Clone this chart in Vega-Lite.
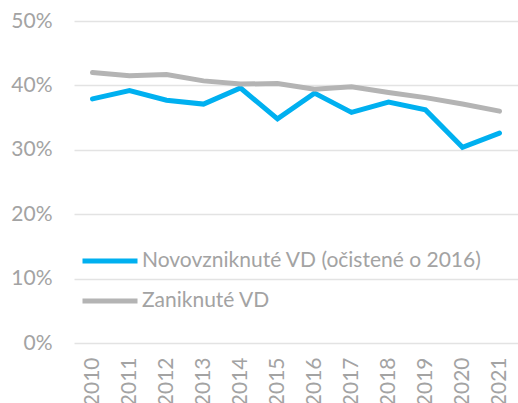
{
  "$schema": "https://vega.github.io/schema/vega-lite/v6.json",
  "width": 444,
  "height": 322,
  "autosize": {"type": "none"},
  "padding": {"left": 74, "top": 21, "right": 0, "bottom": 60},
  "background": "white",
  "config": {
    "view": {"stroke": null},
    "font": "Lato"
  },
  "data": {
    "values": [
      {"year": "2010", "series": "Novovzniknuté VD (očistené o 2016)", "value": 0.379},
      {"year": "2011", "series": "Novovzniknuté VD (očistené o 2016)", "value": 0.392},
      {"year": "2012", "series": "Novovzniknuté VD (očistené o 2016)", "value": 0.377},
      {"year": "2013", "series": "Novovzniknuté VD (očistené o 2016)", "value": 0.371},
      {"year": "2014", "series": "Novovzniknuté VD (očistené o 2016)", "value": 0.396},
      {"year": "2015", "series": "Novovzniknuté VD (očistené o 2016)", "value": 0.348},
      {"year": "2016", "series": "Novovzniknuté VD (očistené o 2016)", "value": 0.388},
      {"year": "2017", "series": "Novovzniknuté VD (očistené o 2016)", "value": 0.358},
      {"year": "2018", "series": "Novovzniknuté VD (očistené o 2016)", "value": 0.374},
      {"year": "2019", "series": "Novovzniknuté VD (očistené o 2016)", "value": 0.362},
      {"year": "2020", "series": "Novovzniknuté VD (očistené o 2016)", "value": 0.304},
      {"year": "2021", "series": "Novovzniknuté VD (očistené o 2016)", "value": 0.326},
      {"year": "2010", "series": "Zaniknuté VD", "value": 0.420},
      {"year": "2011", "series": "Zaniknuté VD", "value": 0.415},
      {"year": "2012", "series": "Zaniknuté VD", "value": 0.417},
      {"year": "2013", "series": "Zaniknuté VD", "value": 0.407},
      {"year": "2014", "series": "Zaniknuté VD", "value": 0.402},
      {"year": "2015", "series": "Zaniknuté VD", "value": 0.403},
      {"year": "2016", "series": "Zaniknuté VD", "value": 0.394},
      {"year": "2017", "series": "Zaniknuté VD", "value": 0.398},
      {"year": "2018", "series": "Zaniknuté VD", "value": 0.389},
      {"year": "2019", "series": "Zaniknuté VD", "value": 0.381},
      {"year": "2020", "series": "Zaniknuté VD", "value": 0.371},
      {"year": "2021", "series": "Zaniknuté VD", "value": 0.360}
    ]
  },
  "mark": {"type": "line", "strokeWidth": 5, "strokeCap": "round", "strokeJoin": "miter"},
  "encoding": {
    "x": {
      "field": "year",
      "type": "ordinal",
      "scale": {"type": "point", "padding": 0.5},
      "axis": {
        "title": null,
        "labelAngle": -90,
        "labelAlign": "right",
        "labelBaseline": "middle",
        "labelFontSize": 21,
        "labelColor": "#a3a3a3",
        "labelPadding": 14,
        "ticks": false,
        "domain": false,
        "grid": false
      }
    },
    "y": {
      "field": "value",
      "type": "quantitative",
      "scale": {"domain": [0, 0.5], "nice": false},
      "axis": {
        "title": null,
        "format": ".0%",
        "values": [0, 0.1, 0.2, 0.3, 0.4, 0.5],
        "labelFontSize": 21,
        "labelColor": "#a3a3a3",
        "labelPadding": 22,
        "ticks": false,
        "domain": false,
        "grid": true,
        "gridColor": "#e3e3e3",
        "gridWidth": 1.5
      }
    },
    "color": {
      "field": "series",
      "type": "nominal",
      "scale": {
        "domain": ["Novovzniknuté VD (očistené o 2016)", "Zaniknuté VD"],
        "range": ["#00b0f0", "#b4b4b4"]
      },
      "legend": {
        "title": null,
        "orient": "none",
        "legendX": 6,
        "legendY": 210,
        "symbolType": "stroke",
        "symbolSize": 3025,
        "symbolStrokeWidth": 5,
        "labelFontSize": 21,
        "labelColor": "#a3a3a3",
        "labelOffset": 2,
        "rowPadding": -1,
        "labelLimit": 500
      }
    }
  }
}
